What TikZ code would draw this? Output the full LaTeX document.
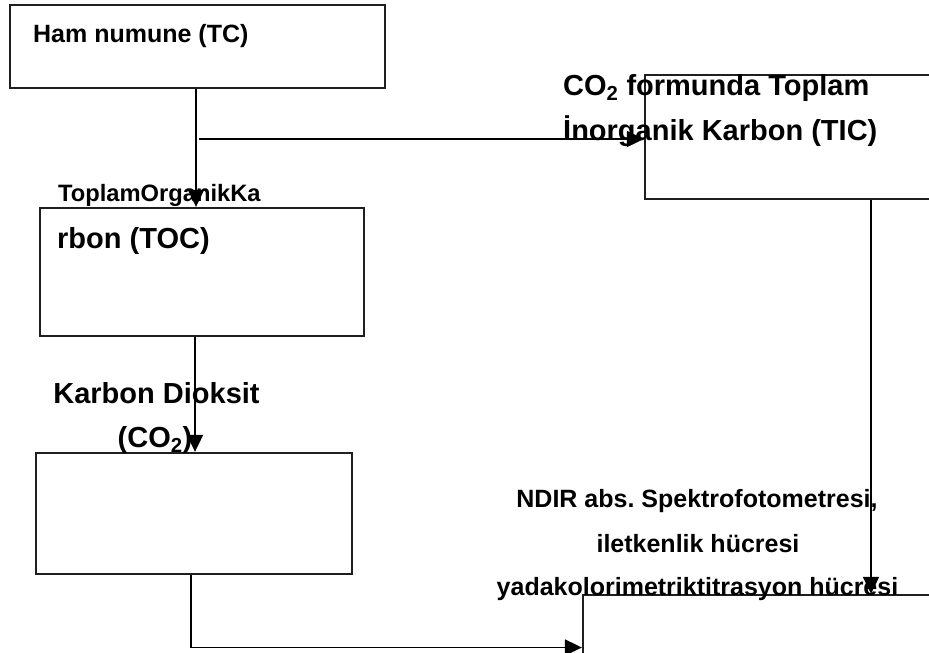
\documentclass[tikz,border=0pt]{standalone}
\usepackage{fontspec}
\setmainfont{Liberation Sans}
\usetikzlibrary{arrows.meta}
\frenchspacing

\tikzset{
  stepbox/.style={draw=black!88, line width=2.3pt, rectangle, inner sep=0pt},
  conn/.style={draw=black, line width=1.9pt,
    -{Triangle[length=17pt,width=16pt]}},
  lbl/.style={inner sep=0pt, font=\bfseries, text=black},
}

\begin{document}
\begin{tikzpicture}[x=1pt,y=-1pt]
  \useasboundingbox (0,0) rectangle (929,653);
  \clip (0,0) rectangle (929,653);

  % boxes
  \node[stepbox, minimum width=375pt, minimum height=83pt] (tc)  at (197.5,46.5) {};
  \node[stepbox, minimum width=324pt, minimum height=128pt] (toc) at (202,272) {};
  \node[stepbox, minimum width=316pt, minimum height=121pt] (co2) at (194,513.5) {};
  \node[stepbox, minimum width=355pt, minimum height=124pt] (tic) at (822.5,137) {};
  \node[stepbox, minimum width=417pt, minimum height=105pt] (det) at (791.5,647.5) {};

  % labels
  \node[lbl, anchor=base west, font=\bfseries\fontsize{25}{30}\selectfont] (ttc) at (33,42) {Ham numune (TC)};
  \node[lbl, anchor=base west, font=\bfseries\fontsize{29}{34}\selectfont] (ttic1) at (563,95) {CO\textsubscript{2} formunda Toplam};
  \node[lbl, anchor=base west, font=\bfseries\fontsize{29}{34}\selectfont] (ttic2) at (563,140) {İnorganik Karbon (TIC)};
  \node[lbl, anchor=base west, font=\bfseries\fontsize{23.7}{28}\selectfont] (ttoc1) at (58,201) {ToplamOrganikKa};
  \node[lbl, anchor=base west, font=\bfseries\fontsize{29}{34}\selectfont] (ttoc2) at (57,248) {rbon (TOC)};
  \node[lbl, anchor=base, font=\bfseries\fontsize{29}{34}\selectfont] (tco1) at (156.5,403) {Karbon Dioksit};
  \node[lbl, anchor=base, font=\bfseries\fontsize{29}{34}\selectfont] (tco2) at (155,447) {(CO\textsubscript{2})};
  \node[lbl, anchor=base, font=\bfseries\fontsize{25}{30}\selectfont] (tdet1) at (697,507) {NDIR abs. Spektrofotometresi,};
  \node[lbl, anchor=base, font=\bfseries\fontsize{25}{30}\selectfont] (tdet2) at (698,552) {iletkenlik hücresi};
  \node[lbl, anchor=base, font=\bfseries\fontsize{25}{30}\selectfont] (tdet3) at (697.5,595) {yadakolorimetriktitrasyon hücresi};

  % connectors
  \coordinate (xa) at (196,0);
  \coordinate (xb) at (195,0);
  \coordinate (xc) at (191,0);
  \coordinate (xd) at (871,0);
  \coordinate (br) at (199,139);

  \draw[conn] (tc.south -| xa) -- (toc.north -| xa);
  \draw[conn] (br) -- (br -| tic.west);
  \draw[conn] (toc.south -| xb) -- (co2.north -| xb);
  \draw[conn] (tic.south -| xd) -- (det.north -| xd);
  \draw[conn] (co2.south -| xc) |- (det.west);
\end{tikzpicture}
\end{document}
